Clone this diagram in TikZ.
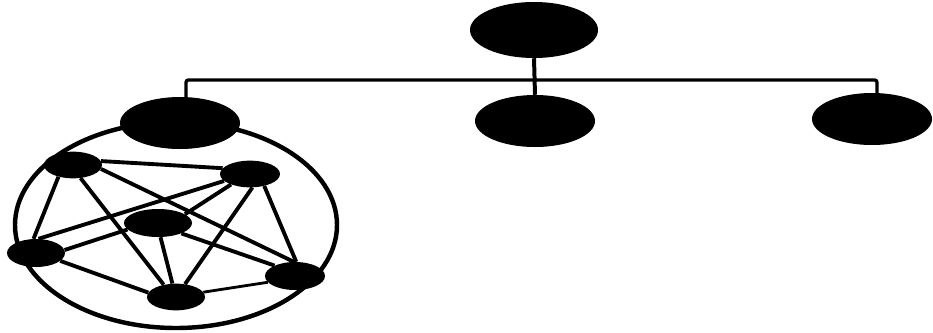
\documentclass[tikz,border=0pt]{standalone}
\usepackage{tikz}
\usetikzlibrary{shapes.geometric, calc}

\tikzset{
  blob/.style={ellipse, fill=black, inner sep=0pt, minimum width=3.6cm, minimum height=1.56cm},
  peer/.style={ellipse, fill=black, inner sep=0pt, minimum width=1.74cm, minimum height=0.8cm},
  link/.style={line width=3.3pt},
  bus/.style={line width=2.8pt, rounded corners=2pt}
}

\begin{document}
\begin{tikzpicture}[x=0.03cm, y=-0.03cm]
  \useasboundingbox (0,0) rectangle (933,332);

  % Ring round the first group
  \draw[line width=3.8pt] (176,225) ellipse (161 and 103);

  % Upper level
  \node[blob, minimum width=3.84cm, minimum height=1.68cm] (root) at (534,30) {};
  \node[blob] (left) at (180,123) {};
  \node[blob] (mid) at (535,121) {};
  \node[blob] (right) at (872,119) {};

  % Bus
  \coordinate (busL) at (186,80);
  \coordinate (busR) at (877,80);
  \draw[bus] (left.north -| busL) -- (busL) -- (busR) -- (right.north -| busR);
  \draw[bus, line width=3.4pt] (root.south) -- (mid.north);

  % Members of the group
  \node[peer] (p1) at (73,165) {};
  \node[peer, minimum width=1.8cm] (p2) at (250,174) {};
  \node[peer, minimum width=2.04cm, minimum height=0.84cm] (p3) at (158,223) {};
  \node[peer, minimum height=0.84cm] (p4) at (36,253) {};
  \node[peer, minimum width=1.8cm, minimum height=0.84cm] (p5) at (295,276) {};
  \node[peer] (p6) at (176,297) {};

  % Mesh
  \foreach \a/\b in {p1.8/p2.168, p1.-8/p5.95, p1.-60/p6.135, p1.-141/p4.100,
                     p2.195/p4.80, p2.209/p3.18, p2.-80/p6.55, p2.-40/p5.85,
                     p3.192/p4.6, p3.-80/p6.105, p3.-24/p5.153,
                     p4.-18/p6.171}
    \draw[link] (\a) -- (\b);
  \draw[line width=2.4pt] (p6.10) -- (p5.193);
\end{tikzpicture}
\end{document}
